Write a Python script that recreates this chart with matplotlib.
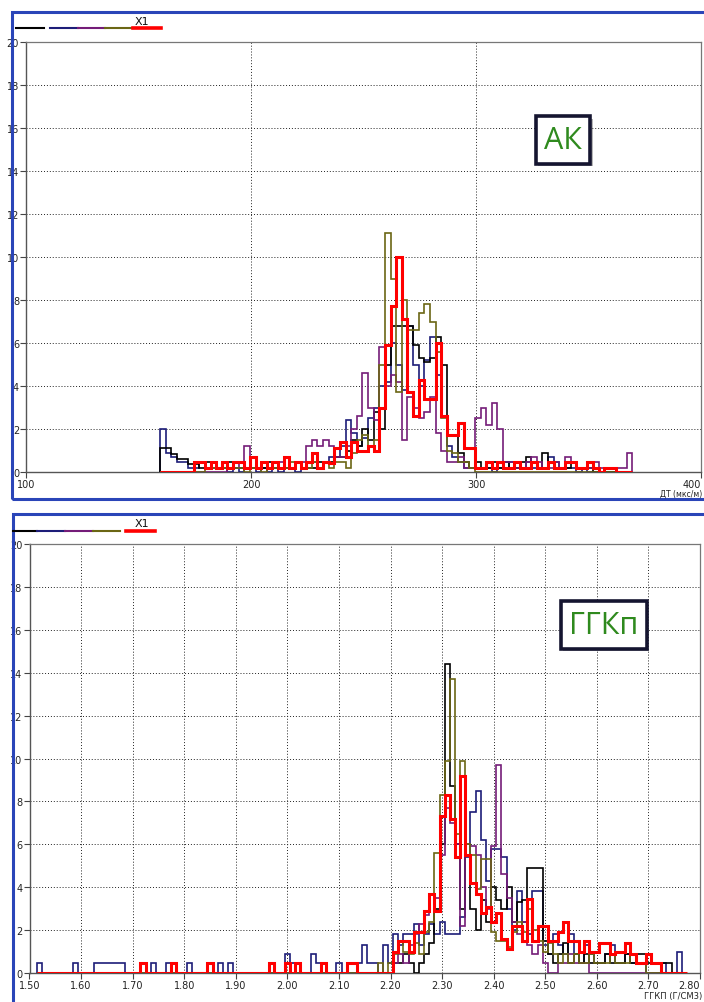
import matplotlib
matplotlib.use("Agg")
import matplotlib.pyplot as plt
import numpy as np
from matplotlib.lines import Line2D
from matplotlib.patches import Rectangle
from matplotlib import patheffects

W, H = 704, 1003

# --- АК histogram (ДТ), bins of 2.5 starting at 159.5 ---
ak_start = 159.5
ak_step = 2.5
ak_black = [
    1.1, 1.1, 0.85, 0.6, 0.6, 0.35, 0.35, 0.2, 0.45, 0.45, 0.2, 0.45,
    0.45, 0.2, 0.2, 0.2, 0.2, 0.2, 0.2, 0.45, 0.2, 0.2, 0.2, 0.2,
    0.45, 0.2, 0.2, 0.2, 0.45, 0.45, 0.45, 0.7, 0.7, 1.0, 1.5, 1.2,
    2.0, 1.5, 2.8, 2.0, 5.0, 6.8, 6.8, 6.8, 6.8, 5.9, 5.3, 5.1,
    5.3, 6.3, 5.0, 1.7, 1.7, 0.9, 0.45, 0.2, 0.45, 0.2, 0.2, 0.45,
    0.2, 0.45, 0.2, 0.2, 0.45, 0.7, 0.45, 0.2, 0.9, 0.45, 0.2, 0.2,
    0.2, 0.45, 0.2, 0.2, 0.2, 0, 0, 0, 0, 0, 0, 0,
]
ak_navy = [
    2.0, 0.9, 0.7, 0.45, 0.45, 0.2, 0.2, 0.45, 0.2, 0.2, 0.2, 0.2,
    0, 0.2, 0, 0.2, 0.2, 0, 0.2, 0, 0.2, 0, 0.2, 0.2,
    0, 0.2, 0.45, 0.45, 0.2, 0.45, 0.7, 0.7, 1.2, 2.4, 1.8, 1.2,
    1.6, 2.5, 3.0, 4.0, 4.2, 6.0, 5.0, 3.8, 6.8, 5.0, 4.0, 5.2,
    6.3, 4.5, 2.6, 1.2, 0.7, 0.45, 0.2, 0.2, 0.2, 0.2, 0.2, 0,
    0.2, 0.2, 0.45, 0.2, 0.2, 0.45, 0.2, 0.2, 0.2, 0.7, 0.45, 0.2,
    0.2, 0.2, 0, 0.2, 0, 0, 0, 0, 0, 0, 0, 0,
]
ak_purple = [
    0, 0, 0, 0, 0, 0, 0, 0, 0, 0, 0, 0,
    0.2, 0.2, 0.45, 1.2, 0.2, 0.2, 0.45, 0.2, 0.2, 0.45, 0.2, 0.2,
    0.45, 0.45, 1.2, 1.5, 1.2, 1.5, 1.2, 0.7, 0.7, 1.2, 2.0, 2.6,
    4.6, 3.0, 2.4, 5.8, 4.0, 4.5, 4.2, 1.5, 3.5, 3.0, 2.5, 2.8,
    3.5, 1.8, 1.0, 0.45, 0.45, 0.7, 0.2, 0.2, 2.5, 3.0, 2.2, 3.2,
    2.0, 0.45, 0.45, 0.2, 0.2, 0.45, 0.7, 0.45, 0.2, 0.2, 0.45, 0.2,
    0.7, 0.45, 0.2, 0.2, 0.2, 0.45, 0.2, 0.2, 0.2, 0.2, 0.2, 0.9,
]
ak_olive = [
    0, 0, 0, 0, 0, 0, 0, 0, 0.2, 0.2, 0.2, 0.2,
    0.2, 0.2, 0.2, 0, 0.2, 0.2, 0, 0.2, 0.2, 0.2, 0.2, 0.45,
    0.45, 0.2, 0.2, 0.45, 0.2, 0.45, 0.2, 0.45, 0.45, 0.2, 0.9, 1.5,
    1.7, 1.2, 1.5, 5.0, 11.1, 9.0, 3.7, 8.0, 6.6, 6.6, 7.4, 7.8,
    7.0, 5.6, 2.5, 1.0, 0.9, 0.45, 0.45, 0.2, 0, 0, 0, 0,
    0, 0, 0, 0, 0, 0, 0, 0, 0, 0, 0, 0,
    0, 0, 0, 0, 0, 0, 0, 0, 0, 0, 0, 0,
]
ak_red = [
    0, 0, 0, 0, 0, 0, 0.45, 0.45, 0.2, 0.45, 0.2, 0.45,
    0.2, 0.45, 0.45, 0.2, 0.7, 0.2, 0.45, 0.2, 0.45, 0.2, 0.7, 0.2,
    0.45, 0.2, 0.45, 0.9, 0.2, 0.45, 0.4, 1.1, 1.4, 0.7, 1.4, 1.0,
    1.0, 1.2, 1.0, 3.0, 5.9, 7.7, 10.0, 7.1, 3.7, 2.6, 4.3, 3.4,
    3.4, 6.0, 2.6, 1.7, 1.7, 2.3, 1.1, 1.1, 0.2, 0.2, 0.45, 0.2,
    0.45, 0.2, 0.2, 0.45, 0.2, 0.2, 0.45, 0.2, 0.2, 0.45, 0.2, 0.2,
    0.45, 0.45, 0.2, 0.2, 0.45, 0.2, 0, 0.2, 0.2, 0, 0, 0,
]

# --- ГГКп histogram (density), bins of 0.01 starting at 1.515 ---
ggk_start = 1.515
ggk_step = 0.01
ggk_black = [
    0, 0, 0, 0, 0, 0, 0, 0, 0, 0,
    0, 0, 0, 0, 0, 0, 0, 0, 0, 0,
    0, 0, 0, 0, 0, 0, 0, 0, 0, 0,
    0, 0, 0, 0, 0, 0, 0, 0, 0, 0,
    0, 0, 0, 0, 0, 0, 0, 0, 0, 0,
    0, 0, 0, 0, 0, 0, 0, 0, 0, 0,
    0, 0, 0, 0, 0, 0, 0, 0, 0, 0.45,
    0.45, 0.9, 0.45, 0, 0.45, 0.9, 1.4, 3.0, 6.0, 14.4,
    8.7, 6.0, 3.0, 5.5, 3.0, 2.0, 3.4, 2.4, 4.0, 3.4,
    3.0, 4.0, 2.4, 3.3, 3.4, 4.9, 4.9, 4.9, 1.5, 0.9,
    0.45, 0.9, 1.4, 0.45, 0.9, 0.45, 0.9, 0.45, 0.45, 0.45,
    0.9, 0.45, 0.45, 0.45, 0.9, 0.45, 0.9, 0.9, 0.45, 0.45,
    0.45, 0.45, 0.45, 0, 0, 0,
]
ggk_navy = [
    0.45, 0, 0, 0, 0, 0, 0, 0.45, 0, 0,
    0, 0.45, 0.45, 0.45, 0.45, 0.45, 0.45, 0, 0, 0,
    0, 0, 0.45, 0, 0, 0.45, 0.45, 0, 0, 0.45,
    0, 0, 0, 0, 0, 0.45, 0, 0.45, 0, 0,
    0, 0, 0, 0, 0, 0, 0, 0, 0.9, 0.45,
    0, 0, 0, 0.9, 0.45, 0, 0, 0, 0.45, 0,
    0, 0, 0.45, 1.3, 0.45, 0.45, 0, 1.3, 0.45, 1.8,
    1.3, 1.8, 1.8, 2.3, 1.3, 1.8, 2.3, 1.8, 2.4, 1.8,
    1.8, 1.8, 2.6, 5.4, 7.5, 8.5, 6.2, 4.3, 5.8, 5.8,
    5.4, 3.0, 2.0, 3.8, 2.4, 1.8, 3.8, 3.8, 1.3, 0.9,
    1.8, 1.3, 0.9, 1.8, 0.9, 0.45, 1.3, 0.9, 0.45, 0.45,
    0.9, 1.3, 0.45, 0.45, 0.9, 0.45, 0.45, 0.45, 0, 0,
    0, 0.45, 0, 0, 1.0, 0,
]
ggk_purple = [
    0, 0, 0, 0, 0, 0, 0, 0, 0, 0,
    0, 0, 0, 0, 0, 0, 0, 0, 0, 0,
    0, 0, 0, 0, 0, 0, 0, 0, 0, 0,
    0, 0, 0, 0, 0, 0, 0, 0, 0, 0,
    0, 0, 0, 0, 0, 0, 0, 0, 0, 0,
    0, 0, 0, 0, 0, 0, 0, 0, 0, 0,
    0, 0, 0, 0, 0, 0, 0, 0, 0, 0.45,
    0.9, 0.45, 1.3, 1.8, 2.3, 2.7, 3.7, 3.5, 5.5, 7.7,
    7.0, 6.0, 2.2, 6.0, 5.9, 5.5, 4.0, 3.0, 5.9, 9.7,
    4.6, 3.5, 2.4, 1.8, 2.4, 1.3, 0.9, 1.3, 0.45, 0,
    0, 0.45, 0.45, 0.9, 0.45, 0.45, 0.45, 0, 0, 0,
    0, 0, 0, 0, 0, 0, 0, 0, 0, 0,
    0, 0, 0, 0, 0, 0,
]
ggk_olive = [
    0, 0, 0, 0, 0, 0, 0, 0, 0, 0,
    0, 0, 0, 0, 0, 0, 0, 0, 0, 0,
    0, 0, 0, 0, 0, 0, 0, 0, 0, 0,
    0, 0, 0, 0, 0, 0, 0, 0, 0, 0,
    0, 0, 0, 0, 0, 0, 0, 0, 0, 0,
    0, 0, 0, 0, 0, 0, 0, 0, 0, 0,
    0, 0, 0, 0, 0, 0, 0.45, 0, 0.45, 0.9,
    1.5, 1.0, 0.9, 1.4, 0.9, 1.9, 2.4, 5.6, 8.3, 9.9,
    13.7, 6.5, 9.9, 6.0, 5.5, 3.9, 5.3, 5.3, 1.9, 1.5,
    1.5, 1.2, 1.9, 2.4, 1.9, 3.0, 2.0, 1.5, 1.0, 1.4,
    0.9, 0.45, 0.9, 0.45, 0.9, 0.45, 0.45, 0.9, 0.45, 0.45,
    0.45, 0.9, 0.45, 0.45, 0.45, 0.9, 0.45, 0.45, 0, 0,
    0, 0, 0, 0, 0, 0,
]
ggk_red = [
    0, 0, 0, 0, 0, 0, 0, 0, 0, 0,
    0, 0, 0, 0, 0, 0, 0, 0, 0, 0,
    0.45, 0, 0, 0, 0, 0, 0.45, 0, 0, 0,
    0, 0, 0, 0.45, 0, 0, 0, 0, 0, 0,
    0, 0, 0, 0, 0, 0.45, 0, 0, 0.45, 0,
    0.45, 0, 0, 0, 0, 0.45, 0, 0, 0, 0,
    0.45, 0.45, 0, 0, 0, 0, 0, 0, 0, 1.0,
    1.5, 1.5, 1.0, 1.9, 1.9, 2.9, 3.7, 2.9, 7.3, 8.3,
    7.2, 5.4, 9.2, 5.5, 4.2, 3.7, 2.8, 3.1, 2.4, 2.8,
    1.6, 1.1, 2.2, 2.2, 1.5, 3.45, 1.5, 2.2, 2.2, 1.5,
    1.5, 1.9, 2.4, 1.5, 1.5, 1.0, 1.5, 1.0, 1.0, 1.4,
    1.4, 0.9, 1.0, 1.0, 1.4, 0.9, 0.45, 0.45, 0.9, 0.45,
    0.45, 0, 0, 0, 0, 0,
]

# line colours in legend order
c_black = "#000000"
c_navy = "#1d1d78"
c_purple = "#741c78"
c_olive = "#6b6614"
c_red = "#ff0000"

frame_blue = "#2a45b8"
label_green = "#2f8a1e"

tick_font = ["Liberation Sans Narrow", "DejaVu Sans"]
box_font = ["Open Sans", "DejaVu Sans"]


def fx(px):
    return px / W


def fy(py):
    return 1 - py / H


def draw_panel(ax, start, step, series, xlim, xticks, fmt):
    edges = start + step * np.arange(len(series[0][0]) + 1)
    for vals, color, lw in series:
        ax.stairs(np.array(vals), edges, baseline=0, fill=False,
                  color=color, linewidth=lw, zorder=3)
    ax.set_xlim(*xlim)
    ax.set_ylim(0, 20)
    ax.set_xticks(xticks)
    ax.set_xticklabels([fmt % t for t in xticks], fontfamily=tick_font)
    # keep the last tick label inside the window
    ax.get_xticklabels()[-1].set_horizontalalignment("right")
    ax.set_yticks(np.arange(0, 21, 2))
    ax.set_yticklabels([str(v) for v in range(0, 21, 2)], fontfamily=tick_font)
    ax.tick_params(labelsize=7, length=4, width=0.8, pad=1,
                   colors="#444444", labelcolor="#222222")
    ax.grid(True, color="#222222", linestyle=(0, (1, 2)), linewidth=0.7)
    ax.set_axisbelow(True)
    for side in ["left", "bottom"]:
        ax.spines[side].set_color("#555555")
        ax.spines[side].set_linewidth(1.0)
    for side in ["top", "right"]:
        ax.spines[side].set_color("#777777")
        ax.spines[side].set_linewidth(0.9)


def label_box(ax, x, y, text):
    t = ax.text(x, y, text, transform=ax.transAxes, ha="center", va="center",
                fontsize=22, color=label_green, fontfamily=box_font, zorder=6,
                bbox=dict(boxstyle="square,pad=0.28", fc="white",
                          ec="#151530", lw=2.6))
    t.get_bbox_patch().set_path_effects([
        patheffects.SimplePatchShadow(offset=(1.5, -1.5), alpha=0.4),
        patheffects.Normal()])


fig = plt.figure(figsize=(W / 100, H / 100), dpi=100)

# outer blue frames of the two plot windows
fig.add_artist(Rectangle((fx(12), fy(500)), fx(720) - fx(12), fy(13) - fy(500),
                         transform=fig.transFigure, fill=False,
                         ec=frame_blue, lw=2.2))
fig.add_artist(Rectangle((fx(13), fy(1020)), fx(720) - fx(13), fy(515) - fy(1020),
                         transform=fig.transFigure, fill=False,
                         ec=frame_blue, lw=2.2))

ax1 = fig.add_axes([fx(26), fy(473), (701 - 26) / W, (473 - 43) / H])
draw_panel(ax1, ak_start, ak_step,
           [(ak_navy, c_navy, 1.2), (ak_black, c_black, 1.2),
            (ak_purple, c_purple, 1.2), (ak_olive, c_olive, 1.2),
            (ak_red, c_red, 2.2)],
           (100, 400), [100, 200, 300, 400], "%d")
label_box(ax1, fx(563 - 26) / fx(675), 1 - (141 - 43) / 430, "АК")

ax2 = fig.add_axes([fx(29.5), fy(974), (700 - 29.5) / W, (974 - 545) / H])
draw_panel(ax2, ggk_start, ggk_step,
           [(ggk_navy, c_navy, 1.2), (ggk_black, c_black, 1.2),
            (ggk_purple, c_purple, 1.2), (ggk_olive, c_olive, 1.2),
            (ggk_red, c_red, 2.2)],
           (1.5, 2.8), list(np.round(np.arange(1.5, 2.81, 0.1), 2)), "%.2f")
label_box(ax2, (604 - 29.5) / 670.5, 1 - (626 - 545) / 429, "ГГКп")

# axis captions in the lower right corners
fig.text(fx(702), fy(494), "ДТ (мкс/м)", fontsize=5.5, fontfamily=tick_font,
         ha="right", va="center", color="#222222")
fig.text(fx(702), fy(997), "ГГКП (Г/СМ3)", fontsize=6, fontfamily=tick_font,
         ha="right", va="center", color="#222222")

# series legend strips above each panel
def legend_strip(y, segments, red_seg, x1_pos):
    for x0, x1, color in segments:
        fig.add_artist(Line2D([fx(x0), fx(x1)], [fy(y), fy(y)],
                              transform=fig.transFigure, color=color, lw=1.5))
    fig.add_artist(Line2D([fx(red_seg[0]), fx(red_seg[1])], [fy(y), fy(y)],
                          transform=fig.transFigure, color=c_red, lw=2.6))
    fig.text(fx(x1_pos[0]), fy(x1_pos[1]), "X1", fontsize=8,
             fontfamily=["DejaVu Sans"], ha="left", va="center", color="#111111")


legend_strip(29, [(16, 44, c_black), (50, 78, c_navy), (78, 105, c_purple),
                  (105, 133, c_olive)], (133, 161), (135, 22))
legend_strip(532, [(13, 37, c_black), (37, 65, c_navy), (65, 93, c_purple),
                   (93, 120, c_olive)], (126, 155), (135, 524))

fig.savefig("out.png", dpi=100)
